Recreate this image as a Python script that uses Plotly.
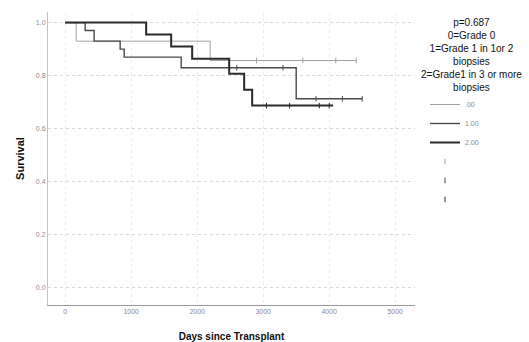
import plotly.graph_objects as go

# Kaplan-Meier step data (days, survival)
g0_days = [0, 167, 2197, 4410]
g0_surv = [1.0, 0.93, 0.857, 0.857]
g1_days = [0, 303, 439, 833, 894, 1758, 3500, 4500]
g1_surv = [1.0, 0.97, 0.93, 0.90, 0.87, 0.83, 0.713, 0.713]
g2_days = [0, 1227, 1606, 1924, 2485, 2712, 2833, 4060]
g2_surv = [1.0, 0.955, 0.91, 0.864, 0.807, 0.747, 0.687, 0.687]

# censored observations
c0_days = [2900, 3600, 4100, 4410]
c0_surv = [0.857, 0.857, 0.857, 0.857]
c1_days = [2600, 3300, 3800, 4200, 4500]
c1_surv = [0.83, 0.83, 0.713, 0.713, 0.713]
c2_days = [3050, 3400, 3850, 4000]
c2_surv = [0.687, 0.687, 0.687, 0.687]

series_names = [".00", "1.00", "2.00"]
censor_names = [".00-censored", "1.00-censored", "2.00-censored"]
x_ticks = [0, 1000, 2000, 3000, 4000, 5000]
y_ticks = [0.0, 0.2, 0.4, 0.6, 0.8, 1.0]

colors = ["#a0a0a0", "#4a4a4a", "#2a2a2a"]
widths = [1, 1.4, 2.0]

fig = go.Figure()
for d, s, n, c, w in zip([g0_days, g1_days, g2_days], [g0_surv, g1_surv, g2_surv],
                         series_names, colors, widths):
    fig.add_trace(go.Scatter(x=d, y=s, mode="lines", name=n,
                             line=dict(shape="hv", color=c, width=w)))
for d, s, n, c in zip([c0_days, c1_days, c2_days], [c0_surv, c1_surv, c2_surv],
                      censor_names, colors):
    fig.add_trace(go.Scatter(x=d, y=s, mode="markers", name="",
                             marker=dict(symbol="line-ns", size=4,
                                         line=dict(color=c, width=1))))

axis_common = dict(showgrid=True, gridwidth=1, griddash="dot",
                   zeroline=False, ticks="", automargin=False,
                   tickfont=dict(size=7, color="#8a8a8a", family="Liberation Sans"))
fig.update_xaxes(range=[-260, 5300], tickvals=x_ticks, ticktext=[str(v) for v in x_ticks],
                 gridcolor="#ececec",
                 showline=True, linecolor="#9a9a9a", linewidth=1,
                 title=dict(text="<b>Days since Transplant</b>",
                            font=dict(size=10, color="#111", family="Liberation Sans"),
                            standoff=19),
                 **axis_common)
fig.update_yaxes(range=[-0.065, 1.04], tickvals=y_ticks,
                 ticktext=[f"{v:.1f}" for v in y_ticks],
                 gridcolor="#d8d8d8",
                 showline=True, linecolor="#c4c4c4", linewidth=1,
                 title=dict(text="<b>Survival</b>",
                            font=dict(size=11, color="#111", family="Liberation Sans"),
                            standoff=9),
                 **axis_common)

fig.add_annotation(xref="paper", yref="paper", x=(471 - 48) / 367, y=1 - (15 - 12) / 293,
                   xanchor="center", yanchor="top", showarrow=False, align="center",
                   text="p=0.687<br>0=Grade 0<br>1=Grade 1 in 1or 2<br>biopsies<br>"
                        "2=Grade1 in 3 or more<br>biopsies",
                   font=dict(size=10, color="#111", family="Liberation Sans"))

fig.update_layout(
    width=529, height=342,
    margin=dict(l=48, r=114, t=12, b=37),
    plot_bgcolor="white", paper_bgcolor="white",
    showlegend=True,
    legend=dict(x=(425 - 48) / 367, y=1 - (90 - 12) / 293, xanchor="left", yanchor="top",
                font=dict(size=7, color="#8a8a8a", family="Liberation Sans"),
                itemwidth=30, tracegroupgap=0, bgcolor="rgba(0,0,0,0)"),
)

fig.write_html("out.html", config={"displayModeBar": False},
               post_script="document.body.style.margin='0';")
